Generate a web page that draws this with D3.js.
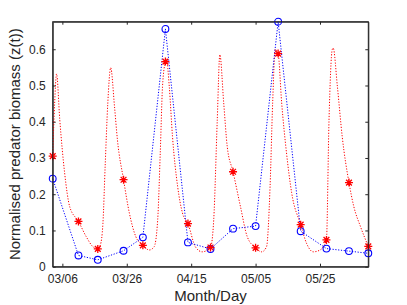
<!DOCTYPE html>
<html>
<head>
<meta charset="utf-8">
<script src="https://cdn.jsdelivr.net/npm/d3@7"></script>
<style>
  body { margin: 0; background: #fff; }
  svg { display: block; font-family: "Liberation Sans", Arial, sans-serif; }
  .axis text { fill: #262626; }
</style>
</head>
<body>
<script>
// days counted from 03/03 (first sample)
var obsDay = [0, 8, 14, 22, 28, 35, 42, 49, 56, 63, 70, 77, 85, 92, 98];
var obsZ = [0.243, 0.031, 0.019, 0.044, 0.081, 0.656, 0.067, 0.049, 0.105, 0.112, 0.676, 0.098, 0.050, 0.043, 0.037];
var fitZ = [0.305, 0.125, 0.049, 0.240, 0.059, 0.566, 0.119, 0.053, 0.262, 0.052, 0.588, 0.116, 0.074, 0.232, 0.056];

// model curve
var modelDay = [0, 0.6, 1.2, 2.2, 3.7, 5.3, 8, 10.4, 12.5, 14, 14.8, 15.6, 16.3, 17.1, 18, 19.2, 20.1, 22,
  23.8, 25.8, 28, 30, 31.5, 32.6, 33.4, 34.1, 35, 35.3, 36.2, 37.2, 38.8, 40.3, 42, 44.3, 46.4, 49,
  50, 51.1, 51.9, 53.1, 54.2, 56, 58.3, 60.4, 63, 64.9, 66.4, 67.5, 68.3, 69.1, 70, 71.1, 72.6, 74.2,
  77, 78.8, 80.9, 83, 85, 85.8, 86.8, 87.1, 88.4, 89.9, 92, 93.5, 95.6, 98];
var modelZ = [0.305, 0.450, 0.532, 0.405, 0.259, 0.165, 0.125, 0.083, 0.055, 0.049, 0.060, 0.120, 0.280, 0.450,
  0.549, 0.441, 0.350, 0.240, 0.148, 0.083, 0.059, 0.046, 0.055, 0.129, 0.314, 0.497, 0.566, 0.574,
  0.497, 0.359, 0.221, 0.148, 0.119, 0.055, 0.041, 0.053, 0.129, 0.405, 0.585, 0.452, 0.331, 0.262,
  0.166, 0.083, 0.052, 0.041, 0.055, 0.221, 0.452, 0.600, 0.588, 0.452, 0.314, 0.204, 0.116, 0.065,
  0.041, 0.046, 0.074, 0.405, 0.599, 0.603, 0.497, 0.359, 0.232, 0.166, 0.110, 0.056];

var tickDay = [3, 23, 43, 63, 83];
var tickLabel = ["03/06", "03/26", "04/15", "05/05", "05/25"];
var yTicks = [0, 0.1, 0.2, 0.3, 0.4, 0.5, 0.6];

var W = 407, H = 305;
var margin = {top: 21.7, right: 38.7, bottom: 38.3, left: 52.7},
    width = W - margin.left - margin.right,
    height = H - margin.top - margin.bottom;

var svg = d3.select("body").append("svg")
    .attr("width", W)
    .attr("height", H);
var g = svg.append("g")
    .attr("transform", "translate(" + margin.left + "," + margin.top + ")");

var x = d3.scaleLinear().domain([0, 98]).range([0, width]);
var y = d3.scaleLinear().domain([0, d3.max(obsZ)]).range([height, 0]);

var axisCol = "#262626";

// bottom + top axes
var xb = g.append("g").attr("class", "axis")
    .attr("transform", "translate(0," + height + ")")
    .call(d3.axisBottom(x).tickValues(tickDay).tickFormat(function(d, i) { return tickLabel[i]; })
      .tickSizeInner(-3).tickSizeOuter(0).tickPadding(8));
var xt = g.append("g").attr("class", "axis")
    .call(d3.axisTop(x).tickValues(tickDay).tickFormat("").tickSizeInner(-3).tickSizeOuter(0));
var yl = g.append("g").attr("class", "axis")
    .call(d3.axisLeft(y).tickValues(yTicks).tickFormat(d3.format("~g"))
      .tickSizeInner(-3).tickSizeOuter(0).tickPadding(7));
var yr = g.append("g").attr("class", "axis")
    .attr("transform", "translate(" + width + ",0)")
    .call(d3.axisRight(y).tickValues(yTicks).tickFormat("").tickSizeInner(-3).tickSizeOuter(0));

g.selectAll(".axis path, .axis line").attr("stroke", axisCol).attr("stroke-width", 1);
g.selectAll(".axis text").style("font-size", "12px").attr("fill", axisCol);

// model curve
var line = d3.line()
    .x(function(d, i) { return x(modelDay[i]); })
    .y(function(d) { return y(d); })
    .curve(d3.curveMonotoneX);
g.append("path")
    .datum(modelZ)
    .attr("d", line)
    .attr("fill", "none")
    .attr("stroke", "#ff0000")
    .attr("stroke-width", 1)
    .attr("stroke-dasharray", "1.2,1.6");

// observed, dotted linear
var obsLine = d3.line()
    .x(function(d, i) { return x(obsDay[i]); })
    .y(function(d) { return y(d); });
g.append("path")
    .datum(obsZ)
    .attr("d", obsLine)
    .attr("fill", "none")
    .attr("stroke", "#0000ff")
    .attr("stroke-width", 1)
    .attr("stroke-dasharray", "1.2,1.6");

g.selectAll("circle.obs")
    .data(obsZ)
  .enter().append("circle")
    .attr("class", "obs")
    .attr("cx", function(d, i) { return x(obsDay[i]); })
    .attr("cy", function(d) { return y(d); })
    .attr("r", 3.4)
    .attr("fill", "none")
    .attr("stroke", "#0000ff")
    .attr("stroke-width", 1.1);

// asterisk markers
var s = 4, s2 = s * 0.72;
var star = "M" + (-s) + ",0L" + s + ",0M0," + (-s) + "L0," + s +
  "M" + (-s2) + "," + (-s2) + "L" + s2 + "," + s2 + "M" + (-s2) + "," + s2 + "L" + s2 + "," + (-s2);
g.selectAll("path.fit")
    .data(fitZ)
  .enter().append("path")
    .attr("class", "fit")
    .attr("transform", function(d, i) { return "translate(" + x(obsDay[i]) + "," + y(d) + ")"; })
    .attr("d", star)
    .attr("fill", "none")
    .attr("stroke", "#ff0000")
    .attr("stroke-width", 1.3);

// box lines on top of everything
g.append("rect")
    .attr("width", width).attr("height", height)
    .attr("fill", "none").attr("stroke", axisCol).attr("stroke-width", 1);

svg.append("text")
    .attr("x", margin.left + width / 2)
    .attr("y", 301)
    .attr("text-anchor", "middle")
    .style("font-size", "15px")
    .attr("fill", axisCol)
    .text("Month/Day");
svg.append("text")
    .attr("transform", "translate(20," + (margin.top + height / 2) + ") rotate(-90)")
    .attr("text-anchor", "middle")
    .style("font-size", "15px")
    .attr("fill", axisCol)
    .text("Normalised predator biomass (z(t))");
</script>
</body>
</html>
